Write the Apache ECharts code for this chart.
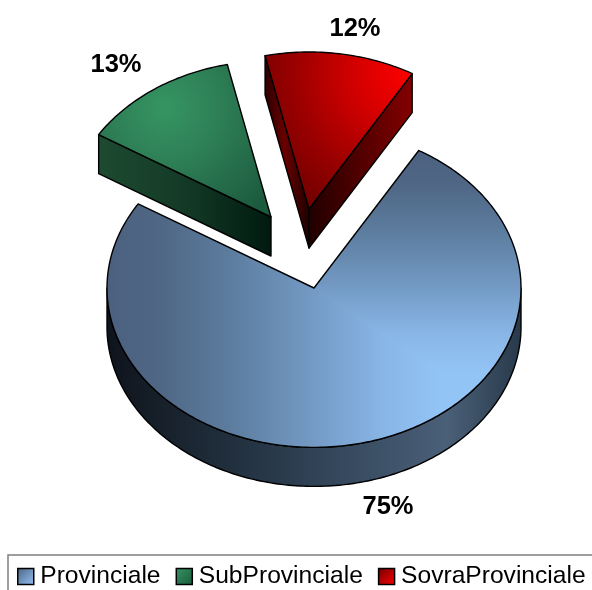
<!DOCTYPE html>
<html>
<head>
<meta charset="utf-8">
<style>
html, body { margin: 0; padding: 0; background: #fff; }
#chart { width: 592px; height: 590px; }
</style>
<script src="https://cdn.jsdelivr.net/npm/echarts@6/dist/echarts.min.js"></script>
</head>
<body>
<div id="chart"></div>
<script>
const categories = ['Provinciale', 'SubProvinciale', 'SovraProvinciale'];
const shares = [75.4, 12.7, 11.9];

// picture geometry of the tilted pie
const startAngle = 30.4;
const radiusX = 207;
const tilt = 0.77;
const depth = 39;
const centres = [[314, 288], [271, 217], [309, 209]];
const sizes = [1, 0.98, 0.985];
const labelSpots = [[388, 507], [116, 65], [355, 29]];
const shadeSplit = 131;

const stopsOf = list => list.map(c => ({ offset: c[0], color: c[1] }));
const radial = (x, y, r, stops) => new echarts.graphic.RadialGradient(x, y, r, stopsOf(stops), true);
const horizontal = (x0, x1, stops) => new echarts.graphic.LinearGradient(x0, 0, x1, 0, stopsOf(stops), true);
const vertical = (y0, y1, stops) => new echarts.graphic.LinearGradient(0, y0, 0, y1, stopsOf(stops), true);

const blueRamp = [[0, '#4c6180'], [0.15, '#4f6684'], [0.38, '#5d7ea0'], [0.6, '#7298c2'], [0.83, '#88b6e6'], [1, '#93c4f6']];
const topFills = [
    horizontal(108, 440, blueRamp),
    radial(165, 108, 135, [[0, '#359562'], [0.35, '#2f8258'], [1, '#1c5a3e']]),
    radial(410, 72, 170, [[0, '#ff0000'], [0.35, '#d00000'], [0.7, '#980000'], [1, '#6e0000']])
];
const blueUpperFill = vertical(150, 372, blueRamp);
const sideFills = [
    horizontal(108, 521, [[0, '#0f141c'], [0.25, '#1e2b38'], [0.55, '#34475c'], [0.82, '#4a6078'], [1, '#28394a']]),
    horizontal(99, 271, [[0, '#1d4a30'], [0.5, '#143a26'], [1, '#001a10']]),
    horizontal(266, 413, [[0, '#300000'], [0.13, '#6a0000'], [0.29, '#200000'], [1, '#840000']])
];
const legendFills = [
    new echarts.graphic.LinearGradient(0, 0, 1, 1, stopsOf([[0, '#4c6180'], [1, '#93c4f6']])),
    new echarts.graphic.LinearGradient(0, 0, 1, 1, stopsOf([[0, '#359562'], [1, '#1c5a3e']])),
    new echarts.graphic.LinearGradient(0, 0, 1, 1, stopsOf([[0, '#6e0000'], [1, '#ff0000']]))
];

const total = shares.reduce((a, b) => a + b, 0);
const sliceStart = i => startAngle + shares.slice(0, i).reduce((a, b) => a + b, 0) / total * 360;

const toPoint = (c, deg, size, drop) => {
    const t = deg * Math.PI / 180;
    return [c[0] + radiusX * size * Math.sin(t), c[1] - radiusX * size * tilt * Math.cos(t) + (drop || 0)];
};
const arc = (c, from, to, size, drop) => {
    const pts = [];
    const steps = Math.max(2, Math.ceil(Math.abs(to - from)));
    for (let i = 0; i <= steps; i++) {
        pts.push(toPoint(c, from + (to - from) * i / steps, size, drop));
    }
    return pts;
};
const edge = { stroke: '#000', lineWidth: 1.4, lineJoin: 'round' };

const renderSlice = idx => (params, api) => {
    const value = api.value(0);
    const a0 = sliceStart(idx);
    const a1 = a0 + value / total * 360;
    const c = centres[idx];
    const size = sizes[idx];
    const children = [];
    const cutFace = deg => {
        const p = toPoint(c, deg, size);
        children.push({
            type: 'polygon',
            shape: { points: [c, p, [p[0], p[1] + depth], [c[0], c[1] + depth]] },
            style: Object.assign({ fill: sideFills[idx] }, edge)
        });
    };
    // cut faces turned towards the viewer
    if (Math.cos((a0 - 90) * Math.PI / 180) < 0) cutFace(a0);
    if (Math.cos((a1 + 90) * Math.PI / 180) < 0) cutFace(a1);
    // outer rim, only the front half shows
    const r0 = Math.max(a0, 90);
    const r1 = Math.min(a1, 270);
    if (r1 > r0) {
        children.push({
            type: 'polygon',
            shape: { points: arc(c, r0, r1, size, 0).concat(arc(c, r1, r0, size, depth)) },
            style: Object.assign({ fill: sideFills[idx] }, edge)
        });
    }
    const top = [c].concat(arc(c, a0, a1, size));
    children.push({ type: 'polygon', shape: { points: top }, style: { fill: topFills[idx] } });
    if (idx === 0) {
        // the big slice shades by height on its right part, by x on the rest
        children.push({
            type: 'polygon',
            shape: { points: [c].concat(arc(c, a0, shadeSplit, size)) },
            style: { fill: blueUpperFill }
        });
    }
    children.push({
        type: 'polygon',
        shape: { points: top },
        style: Object.assign({ fill: 'none' }, edge)
    });
    children.push({
        type: 'text',
        style: {
            x: labelSpots[idx][0], y: labelSpots[idx][1],
            text: Math.round(value) + '%',
            fill: '#000',
            font: 'bold 25.5px "Liberation Sans", Arial, sans-serif',
            align: 'center', verticalAlign: 'middle'
        }
    });
    return { type: 'group', children };
};

const chart = echarts.init(document.getElementById('chart'), null, { renderer: 'canvas' });
chart.setOption({
    animation: false,
    backgroundColor: '#fff',
    graphic: [{
        type: 'rect',
        shape: { x: 8, y: 555, width: 620, height: 60 },
        style: { fill: '#fff', stroke: '#7f7f7f', lineWidth: 1.5 },
        z: -1
    }],
    legend: {
        left: 12,
        top: 559,
        width: 585,
        selectedMode: false,
        itemWidth: 16,
        itemHeight: 16,
        itemGap: 15,
        textStyle: {
            fontFamily: '"Liberation Sans", Arial, sans-serif',
            fontSize: 24.6,
            color: '#000',
            padding: [0, 0, 0, 1.5]
        },
        data: categories.map((name, i) => ({
            name,
            icon: 'rect',
            itemStyle: { color: legendFills[i], borderColor: '#000', borderWidth: 1.5 }
        }))
    },
    series: categories.map((name, i) => ({
        type: 'custom',
        name,
        coordinateSystem: 'none',
        data: [[shares[i]]],
        renderItem: renderSlice(i),
        encode: { value: 0 },
        silent: true
    }))
});
</script>
</body>
</html>
